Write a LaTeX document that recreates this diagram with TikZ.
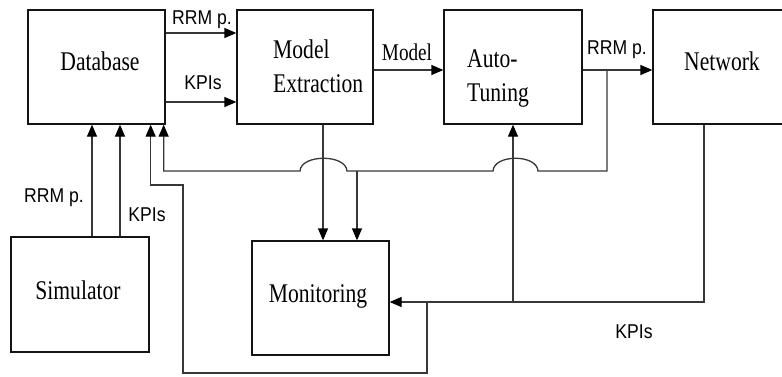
\documentclass[tikz,border=0pt]{standalone}
\usepackage{fontspec}
\setmainfont{Liberation Serif}
\newfontfamily\boxfont[FakeStretch=0.8]{Liberation Serif}
\newfontfamily\sigfont[FakeStretch=0.88]{Liberation Sans}
\usepackage{tikz}
\usetikzlibrary{arrows.meta, positioning, calc}
\definecolor{boxline}{RGB}{20,20,20}
\definecolor{sigline}{RGB}{55,55,55}

\tikzset{
  blk/.style={draw=boxline, line width=1.3pt, inner sep=0pt, minimum width=137pt, minimum height=114pt},
  blktxt/.style={font=\fontsize{27}{34}\selectfont\boxfont, align=left, inner sep=0pt},
  sig/.style={font=\fontsize{20}{22}\selectfont\sigfont, inner sep=0pt},
  flow/.style={draw=sigline, line width=1.3pt},
  tip/.style={flow, -{Triangle[length=12pt,width=10pt,color=black]}},
}

\begin{document}
\begin{tikzpicture}[x=1pt, y=-1pt]
  \useasboundingbox (0,0) rectangle (782,376);

  % Blocks
  \node[blk] (db) at (96.5,67) {};
  \node[blk, minimum width=136pt] (me) at (305,67) {};
  \node[blk, minimum width=138pt] (at) at (513,67) {};
  \node[blk] (nw) at (721.5,67) {};
  \node[blk, minimum width=138pt, minimum height=115pt] (sim) at (80,294.5) {};
  \node[blk] (mon) at (320.5,298) {};

  % Block texts
  \node[blktxt, anchor=base] (dbtxt) at (100,70) {Database};
  \node[blktxt, anchor=north west] (metxt) at (273,40) {Model\\Extraction};
  \node[blktxt, anchor=north west] (attxt) at (467,49) {Auto-\\Tuning};
  \node[blktxt, anchor=base] (nwtxt) at (722,70) {Network};
  \node[blktxt, anchor=base] (simtxt) at (78,299) {Simulator};
  \node[blktxt, anchor=base] (montxt) at (318,302) {Monitoring};

  % Forward chain
  \draw[tip] ([yshift=34pt]db.east) -- ([yshift=34pt]me.west);
  \draw[tip] ([yshift=-35pt]db.east) -- ([yshift=-35pt]me.west);
  \draw[tip] ([yshift=-3pt]me.east) -- ([yshift=-3pt]at.west);
  \draw[tip] ([yshift=-3pt]at.east) -- ([yshift=-3pt]nw.west);
  \node[sig, anchor=base] (l1) at (202,24) {RRM p.};
  \node[sig, anchor=base] (l2) at (203,89) {KPIs};
  \node[blktxt, font=\fontsize{24}{26}\selectfont\boxfont, anchor=base] (l3) at (407,60) {Model};
  \node[sig, anchor=base] (l4) at (617,54) {RRM p.};

  % Simulator to Database
  \coordinate (simrrm) at ([xshift=12pt]sim.north);
  \coordinate (simkpi) at ([xshift=40pt]sim.north);
  \draw[tip] (simrrm) -- (simrrm |- db.south);
  \draw[tip] (simkpi) -- (simkpi |- db.south);
  \node[sig, anchor=base] (l5) at (54,202) {RRM p.};
  \node[sig, anchor=base] (l6) at (147,221) {KPIs};

  % RRM p. fed back to Database and Monitoring
  \coordinate (rtap) at (607,70);
  \coordinate (dbrrm) at ([xshift=-2pt]db.south east);
  \draw[tip] (rtap) -- (607,171) -- (538,171)
    .. controls (537,154) and (494,154) .. (493,171) -- (347,171)
    .. controls (346,154) and (301,154) .. (300,171) -- (dbrrm |- 0,171) -- (dbrrm);
  \coordinate (mtap) at (357,171);
  \draw[tip] (mtap) -- (mtap |- mon.north);
  \coordinate (meout) at ([xshift=18pt]me.south);
  \draw[tip] (meout) -- (meout |- mon.north);

  % KPIs from Network
  \coordinate (nwout) at ([xshift=-17.5pt]nw.south);
  \coordinate (monin) at ([yshift=-4pt]mon.east);
  \draw[tip] (nwout) -- (nwout |- monin) -- (monin);
  \coordinate (attap) at (at.south |- monin);
  \draw[tip] (attap) -- (at.south);
  \coordinate (ktap) at (427,302);
  \coordinate (dbkpi) at ([xshift=-15pt]db.south east);
  \draw[tip] (ktap) -- (427,373) -- (183,373) -- (183,185) -- (dbkpi |- 0,185) -- (dbkpi);
  \node[sig, anchor=base] (l7) at (634,338) {KPIs};
\end{tikzpicture}
\end{document}
